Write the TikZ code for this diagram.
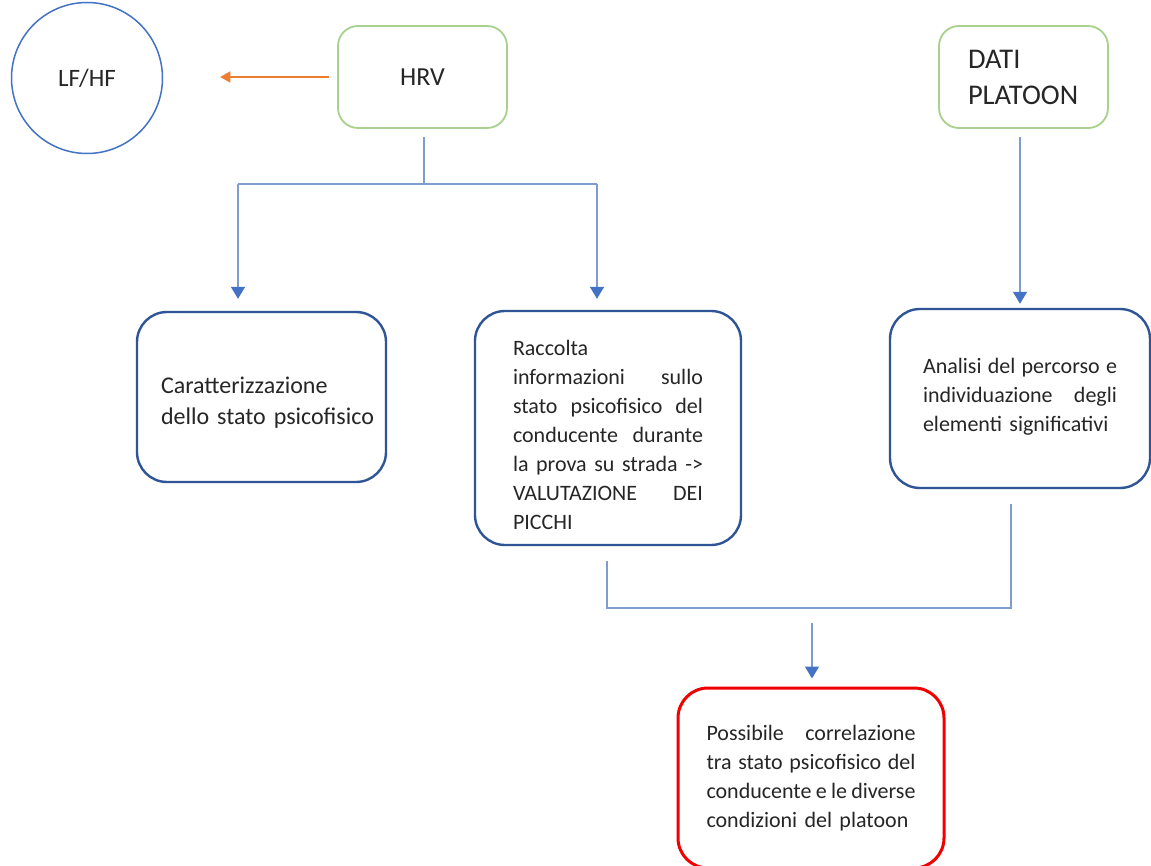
\documentclass[tikz,border=0pt]{standalone}
\usepackage{fontspec}
\setmainfont{Carlito}
\usetikzlibrary{arrows.meta}
\definecolor{cblue}{HTML}{4472C4}
\definecolor{dblue}{HTML}{2F5597}
\definecolor{cgreen}{HTML}{A9D18E}
\definecolor{corange}{HTML}{ED7D31}
\definecolor{cline}{HTML}{7F9CCB}
\definecolor{cred}{HTML}{F00000}
\newcommand{\jl}[2]{\leavevmode\hbox to #1{#2}}
\newcommand{\nl}[1]{\mbox{#1}}
\begin{document}
\begin{tikzpicture}[x=1pt,y=-1pt,
  every node/.style={font=\fontsize{22}{29}\selectfont, text=black!85},
  greenbox/.style={draw=cgreen, line width=1.8pt, rounded corners=20pt, minimum width=169pt, minimum height=102pt, inner sep=0pt},
  bluebox/.style={draw=dblue, line width=2.4pt, rounded corners=30pt, inner sep=0pt},
  redbox/.style={draw=cred, line width=3pt, rounded corners=30pt, inner sep=0pt},
  conn/.style={draw=cline, line width=1.4pt},
  arr/.style={conn, -{Triangle[width=14pt,length=12pt,color=cblue]}}
]
\useasboundingbox (0,0) rectangle (1151,866);
\clip (0,0) rectangle (1151,866);
\fill[white] (0,0) rectangle (1151,866);

% circle
\node[draw=cblue, line width=1.5pt, circle, minimum size=151pt, inner sep=0pt,
  font=\fontsize{25}{30}\selectfont] (lf) at (87,78) {LF/HF};

% green boxes
\node[greenbox, font=\fontsize{26}{31}\selectfont] (hrv) at (422.5,77) {HRV};
\node[greenbox, font=\fontsize{28.5}{36}\selectfont, text width=169pt, align=left] (dati) at (1023.5,77)
  {\hspace*{29pt}DATI\\\hspace*{29pt}PLATOON};

% blue boxes
\node[bluebox, minimum width=249pt, minimum height=170pt, text width=201pt, align=left,
  font=\fontsize{24}{31}\selectfont] (car) at (261.5,397)
  {\rule{0pt}{28pt}\nl{Caratterizzazione}\\\nl{dello stato psicofisico}};
\node[bluebox, minimum width=266pt, minimum height=234pt, text width=190pt, align=left] (rac) at (608,428)
  {\rule{0pt}{28.5pt}\nl{Raccolta}\\
   \jl{190pt}{informazioni\hfill sullo}\\
   \jl{190pt}{stato\hfill psicofisico\hfill del}\\
   \jl{190pt}{conducente\hfill durante}\\
   \jl{190pt}{la\hfill prova\hfill su\hfill strada\hfill ->}\\
   \jl{190pt}{VALUTAZIONE\hfill DEI}\\
   \nl{PICCHI}};
\node[bluebox, minimum width=260pt, minimum height=179pt, text width=194pt, align=left] (ana) at (1020,398.5)
  {\jl{194pt}{Analisi\hfill del\hfill percorso\hfill e}\\
   \jl{194pt}{individuazione\hfill degli}\\
   \nl{elementi significativi}\\[-21pt]\mbox{}};

% red box
\node[redbox, minimum width=266pt, minimum height=180pt, text width=209pt, align=left] (cor) at (811,778)
  {\jl{209pt}{Possibile\hfill correlazione}\\
   \jl{209pt}{tra\hfill stato\hfill psicofisico\hfill del}\\
   \jl{209pt}{conducente\hfill e\hfill le\hfill diverse}\\
   \nl{condizioni del platoon}};

% connectors
\coordinate (oe) at ([xshift=57pt]lf.east);
\draw[conn, draw=corange, -{Triangle[width=11pt,length=10pt,color=corange]}]
  ([xshift=-8pt]hrv.west) -- (oe |- hrv.west);

\coordinate (j1) at (424,184);
\coordinate (jl) at (238,184);
\coordinate (jr) at (597,184);
\draw[conn] ([yshift=-8pt]hrv.south -| j1) -- (j1);
\draw[conn] (jl) -- (jr);
\draw[arr] (jl) -- ([yshift=12pt]car.north -| jl);
\draw[arr] (jr) -- ([yshift=11pt]rac.north -| jr);
\coordinate (dx) at (1020,0);
\draw[arr] ([yshift=-8pt]dati.south -| dx) -- ([yshift=4pt]ana.north -| dx);

\coordinate (m1) at (607,608);
\coordinate (m2) at (1011,608);
\coordinate (mc) at (812,623);
\draw[conn] ([yshift=-15pt]rac.south -| m1) -- (m1) -- (m2) -- ([yshift=-15pt]ana.south -| m2);
\draw[arr] (mc) -- ([yshift=8pt]cor.north -| mc);
\end{tikzpicture}
\end{document}
